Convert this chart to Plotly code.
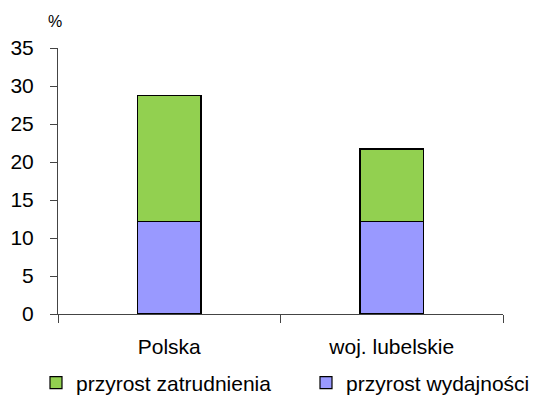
import plotly.graph_objects as go

categories = ["Polska", "woj. lubelskie"]
wydajnosc = [12.2, 12.2]
zatrudnienie = [16.5, 9.5]
y_ticks = [0, 5, 10, 15, 20, 25, 30, 35]

FONT = "Liberation Sans, Arial, sans-serif"

fig = go.Figure()
fig.add_trace(go.Bar(
    x=categories, y=wydajnosc, name="przyrost wydajności",
    marker=dict(color="#9999FF", line=dict(color="#000000", width=1.2)),
    legend="legend2",
))
fig.add_trace(go.Bar(
    x=categories, y=zatrudnienie, name="przyrost zatrudnienia",
    marker=dict(color="#92D050", line=dict(color="#000000", width=1.2)),
    legend="legend",
))

leg_common = dict(orientation="h", yanchor="middle", xanchor="left",
                  font=dict(size=21, family=FONT), bgcolor="rgba(0,0,0,0)",
                  itemwidth=30)

fig.update_layout(
    width=537, height=402,
    barmode="stack", bargap=0.715,
    paper_bgcolor="white", plot_bgcolor="white",
    margin=dict(l=58, r=34, t=48, b=88, autoexpand=False),
    font=dict(family=FONT, color="#000000"),
    showlegend=True,
    legend=dict(x=(36 - 58) / 445, y=(314 - 383) / 266, **leg_common),
    legend2=dict(x=(306 - 58) / 445, y=(314 - 383) / 266, **leg_common),
    xaxis=dict(
        showline=True, linecolor="#444444", linewidth=1,
        ticks="outside", tickson="boundaries", ticklen=8, tickcolor="#444444",
        tickfont=dict(size=21), showgrid=False, ticklabelstandoff=14,
    ),
    yaxis=dict(
        range=[0, 35], tickvals=y_ticks, showline=True, linecolor="#444444",
        linewidth=1, ticks="outside", ticklen=7, tickcolor="#444444",
        tickfont=dict(size=21), showgrid=False, zeroline=False,
        ticklabelstandoff=12,
    ),
    annotations=[dict(text="%", xref="paper", yref="paper", x=-0.007, y=1.06,
                      xanchor="center", yanchor="bottom", showarrow=False,
                      font=dict(size=16))],
)

fig.write_html("out.html", config={"displayModeBar": False},
               post_script="document.body.style.margin='0';")
